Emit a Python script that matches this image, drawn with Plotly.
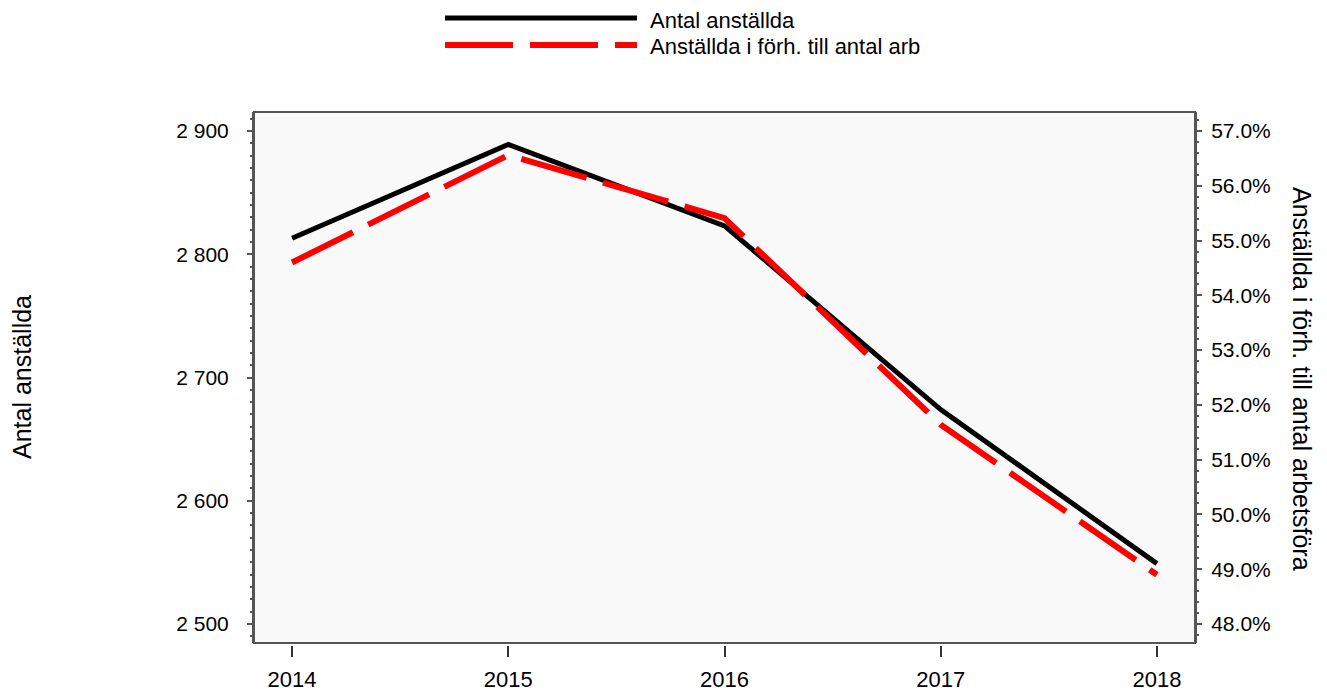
import plotly.graph_objects as go

years = [2014, 2015, 2016, 2017, 2018]
antal_anstallda = [2813, 2889, 2823, 2674, 2549]
andel_procent = [54.6, 56.56, 55.41, 51.64, 48.9]

left_ticks = [2500, 2600, 2700, 2800, 2900]
right_ticks = [48, 49, 50, 51, 52, 53, 54, 55, 56, 57]
right_ticktext = ["48.0%", "49.0%", "50.0%", "51.0%", "52.0%", "53.0%", "54.0%", "55.0%", "56.0%", "57.0%"]

name_left = "Antal anställda"
name_right = "Anställda i förh. till antal arb"
title_left = "Antal anställda"
title_right = "Anställda i förh. till antal arbetsföra"

FONT = "Arial, Liberation Sans, sans-serif"
W, H = 1327, 696
OFF = 8  # page body margin
L, R, T, B = 254 - OFF, 1327 - (1195 - OFF), 112 - OFF, 696 - (645 - OFF)
gap = 2
plot_h = H - T - B
AX = "#555555"

fig = go.Figure()
fig.add_trace(go.Scatter(x=years, y=antal_anstallda, mode="lines", name=name_left,
                         line=dict(color="black", width=5), yaxis="y", showlegend=False))
fig.add_trace(go.Scatter(x=years, y=andel_procent, mode="lines", name=name_right,
                         line=dict(color="#FF0000", width=6, dash="68px,17px"), yaxis="y2",
                         showlegend=False))

ydom = [gap / plot_h, 1]

fig.update_layout(
    width=W, height=H,
    margin=dict(l=L, r=R, t=T, b=B),
    paper_bgcolor="white",
    plot_bgcolor="#F9F9F9",
    separators=". ",
    font=dict(family=FONT, size=21, color="black"),
    xaxis=dict(
        range=[2013.824, 2018.176], tickvals=years, ticktext=[str(y) for y in years],
        showgrid=False, zeroline=False, showline=False,
        ticks="outside", ticklen=11, tickcolor="#333333", tickwidth=1.5,
        anchor="free", position=0, tickfont=dict(size=22), ticklabelstandoff=4,
    ),
    yaxis=dict(
        domain=ydom, range=[2484.6, 2915.4], tickvals=left_ticks,
        tickformat=",d", showgrid=False, zeroline=False,
        showline=True, linecolor=AX, linewidth=2,
        ticks="outside", ticklen=5, tickcolor=AX, tickwidth=1.5,
        minor=dict(dtick=10, ticks="outside", ticklen=2, tickcolor=AX, showgrid=False),
        tickfont=dict(size=21), ticklabelstandoff=14,
    ),
    yaxis2=dict(
        domain=ydom, overlaying="y", side="right", range=[47.653, 57.347],
        tickvals=right_ticks, ticktext=right_ticktext,
        showgrid=False, zeroline=False,
        showline=True, linecolor=AX, linewidth=2,
        ticks="outside", ticklen=5, tickcolor=AX, tickwidth=1.5,
        minor=dict(dtick=0.2, ticks="outside", ticklen=2, tickcolor=AX, showgrid=False),
        tickfont=dict(size=21), ticklabelstandoff=5,
    ),
)

# plot box
fig.add_shape(type="rect", xref="x domain", yref="y domain", x0=0, x1=1, y0=0, y1=1,
              line=dict(color=AX, width=2), layer="above")

# custom legend
def px_x(px):
    return (px - OFF - L) / (W - L - R)

def px_y(py):
    return (H - B - (py - OFF)) / plot_h

fig.add_shape(type="line", xref="paper", yref="paper",
              x0=px_x(445), x1=px_x(637), y0=px_y(18), y1=px_y(18),
              line=dict(color="black", width=5))
fig.add_shape(type="line", xref="paper", yref="paper",
              x0=px_x(445), x1=px_x(637), y0=px_y(45), y1=px_y(45),
              line=dict(color="#FF0000", width=6, dash="68px,17px"))
fig.add_annotation(xref="paper", yref="paper", x=px_x(648), y=px_y(20), text=name_left,
                   showarrow=False, xanchor="left", yanchor="middle", font=dict(size=22))
fig.add_annotation(xref="paper", yref="paper", x=px_x(648), y=px_y(47), text=name_right,
                   showarrow=False, xanchor="left", yanchor="middle", font=dict(size=22))

# axis titles
fig.add_annotation(xref="paper", yref="paper", x=px_x(22), y=px_y(377), text=title_left,
                   showarrow=False, textangle=-90, xanchor="center", yanchor="middle",
                   font=dict(size=25))
fig.add_annotation(xref="paper", yref="paper", x=px_x(1302), y=px_y(379), text=title_right,
                   showarrow=False, textangle=90, xanchor="center", yanchor="middle",
                   font=dict(size=25))

fig.write_html("out.html")
